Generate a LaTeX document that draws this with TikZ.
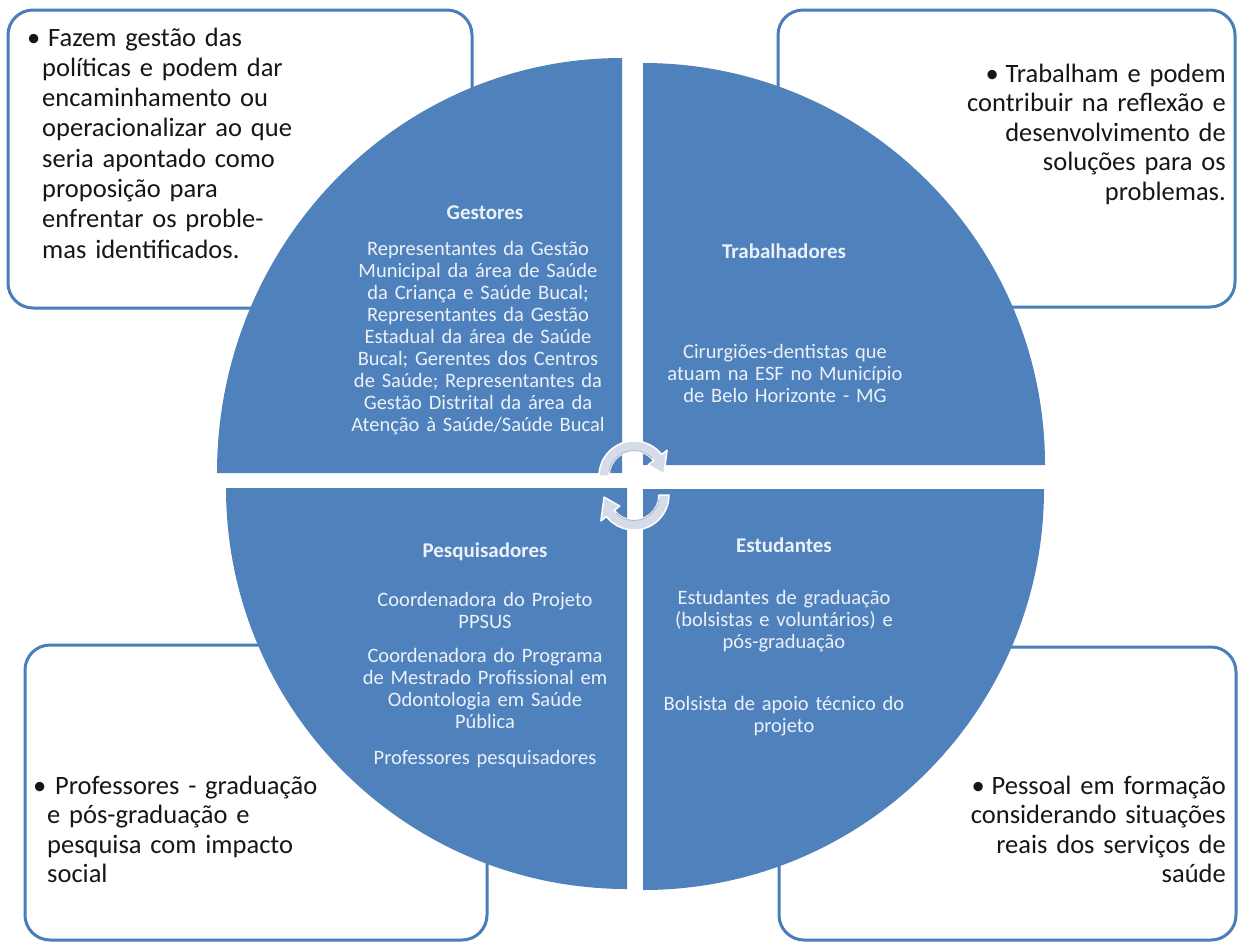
\documentclass[tikz,border=0pt]{standalone}
\usepackage{fontspec}
\setmainfont{Carlito}
\newfontfamily\quadfont{Carlito}[WordSpace=0.8]
\definecolor{quad}{RGB}{79,129,189}
\definecolor{frame}{RGB}{74,126,187}
\definecolor{qtext}{RGB}{236,241,248}
\definecolor{btext}{RGB}{22,22,22}
\definecolor{arrowfill}{RGB}{214,220,231}
\definecolor{arrowedge}{RGB}{178,188,206}

\begin{document}
\begin{tikzpicture}[x=1pt,y=1pt,
  infobox/.style={draw=frame, line width=3pt, fill=white, rounded corners=25pt},
  quadrant/.style={fill=quad},
  boxtext/.style={font=\fontsize{26.5}{30.3}\selectfont, text=btext, inner sep=0pt, text width=440pt},
  boxtextb/.style={boxtext, font=\fontsize{26.5}{29.5}\selectfont},
  qtitle/.style={font=\quadfont\bfseries\fontsize{21}{23}\selectfont, text=qtext, inner sep=0pt},
  qbody/.style={font=\quadfont\fontsize{20.5}{22}\selectfont, text=qtext, inner sep=0pt, align=center, text width=300pt},
  cyclearrow/.style={fill=arrowfill, draw=white, line width=1.5pt, line join=round}
]
\path[use as bounding box] (0,0) rectangle (1239,-943);
\fill[white] (0,0) rectangle (1239,-943);

% outer description boxes
\draw[infobox] (8,-10) rectangle (472,-308);
\draw[infobox] (778,-10) rectangle (1235,-307);
\draw[infobox] (25,-645) rectangle (487,-940);
\draw[infobox] (779,-647) rectangle (1236,-940);

% the four quarter discs
\fill[quadrant] (622,-473) -- (217,-473) arc[start angle=180, end angle=90, x radius=405, y radius=415] -- cycle;
\fill[quadrant] (643,-465) -- (643,-63) arc[start angle=90, end angle=0, radius=402] -- cycle;
\fill[quadrant] (627,-488) -- (627,-889) arc[start angle=270, end angle=180, radius=401] -- cycle;
\fill[quadrant] (643,-489) -- (1044,-489) arc[start angle=0, end angle=-90, radius=401] -- cycle;

% cycle arrows in the middle
\coordinate (ctop) at (634,-476);
\coordinate (cbot) at (634,-495);
\path[cyclearrow] ([shift={(180:35)}]ctop) arc[start angle=180, end angle=38, radius=35]
  -- ([shift={(38:42)}]ctop) -- ([shift={(4:30)}]ctop) -- ([shift={(38:18)}]ctop)
  -- ([shift={(38:25)}]ctop) arc[start angle=38, end angle=180, radius=25] -- cycle;
\path[cyclearrow] ([shift={(0:35)}]cbot) arc[start angle=0, end angle=-142, radius=35]
  -- ([shift={(-142:42)}]cbot) -- ([shift={(-176:30)}]cbot) -- ([shift={(-142:18)}]cbot)
  -- ([shift={(-142:25)}]cbot) arc[start angle=-142, end angle=0, radius=25] -- cycle;
\draw[arrowedge, line width=1pt] ([shift={(170:25.5)}]ctop) arc[start angle=170, end angle=45, radius=25.5];
\draw[arrowedge, line width=1pt] ([shift={(-10:25.5)}]cbot) arc[start angle=-10, end angle=-135, radius=25.5];

% quadrant texts
\node[qtitle, anchor=base] (gtitle) at (485,-219) {Gestores};
\node[qbody, anchor=base] (gbody) at (478,-255) {Representantes da Gestão\\
Municipal da área de Saúde\\ da Criança e Saúde Bucal;\\ Representantes da Gestão\\
Estadual da área de Saúde\\ Bucal; Gerentes dos Centros\\ de Saúde; Representantes da\\
Gestão Distrital da área da\\ Atenção à Saúde/Saúde Bucal};

\node[qtitle, anchor=base] (ttitle) at (784,-258) {Trabalhadores};
\node[qbody, anchor=base] (tbody) at (785,-358) {Cirurgiões-dentistas que\\
atuam na ESF no Município\\ de Belo Horizonte - MG};

\node[qtitle, anchor=base] (ptitle) at (485,-557) {Pesquisadores};
\node[qbody, anchor=base] (pbody) at (485,-606) {Coordenadora do Projeto\\ PPSUS\\[12pt]
Coordenadora do Programa\\ de Mestrado Profissional em\\ Odontologia em Saúde\\ Pública\\[14pt]
Professores pesquisadores};

\node[qtitle, anchor=base] (etitle) at (784,-552) {Estudantes};
\node[qbody, anchor=base] (ebody) at (784,-604) {Estudantes de graduação\\
(bolsistas e voluntários) e\\ pós-graduação\\[40pt]
Bolsista de apoio técnico do\\ projeto};

% box texts
\node[boxtext, anchor=base west] (tlbullet) at (27,-46) {\textbullet};
\node[boxtext, align=left, anchor=base west] (tltext) at (42,-46)
 {\hspace*{6pt}Fazem gestão das\\
 políticas e podem dar\\ encaminhamento ou\\ operacionalizar ao que\\ seria apontado como\\
 proposição para\\ enfrentar os proble-\\ mas identificados.};

\node[boxtextb, align=right, anchor=base east] (trtext) at (1226,-82)
 {\makebox[20pt][l]{\textbullet}Trabalham e podem\\ contribuir na reflexão e\\
 desenvolvimento de\\ soluções para os\\ problemas.};

\node[boxtextb, anchor=base west] (blbullet) at (33,-794) {\textbullet};
\node[boxtextb, align=left, anchor=base west] (bltext) at (47,-794)
 {\hspace*{8pt}Professores - graduação\\
 e pós-graduação e\\ pesquisa com impacto\\ social};

\node[boxtextb, align=right, anchor=base east] (brtext) at (1226,-794)
 {\makebox[20pt][l]{\textbullet}Pessoal em formação\\ considerando situações\\
 reais dos serviços de\\ saúde};
\end{tikzpicture}
\end{document}
